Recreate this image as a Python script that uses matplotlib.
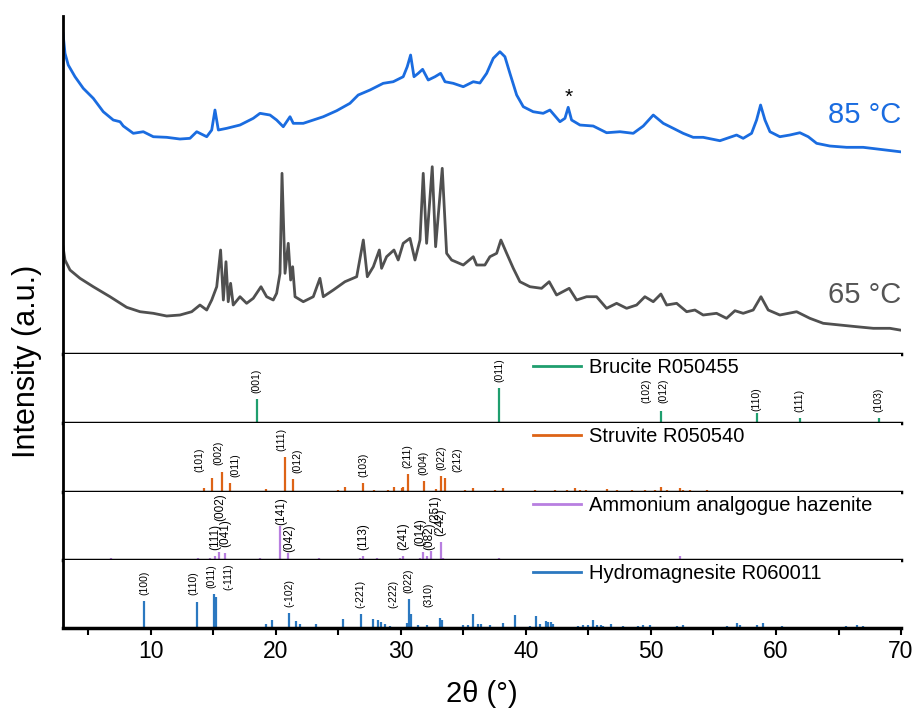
import numpy as np
import matplotlib
matplotlib.use("Agg")
import matplotlib.pyplot as plt
from matplotlib.ticker import MultipleLocator

plt.rcParams['font.family'] = ['Liberation Sans', 'DejaVu Sans']

# measured patterns (2theta in deg, intensity in a.u.)
tt_85 = [3.0, 3.16, 3.42, 3.96, 4.62, 5.42, 6.22, 7.02, 7.56, 7.82, 8.62, 9.42, 10.22, 11.29,
         12.35, 13.15, 13.69, 14.49, 14.89, 15.15, 15.42, 16.09, 17.15, 18.21, 18.75, 19.55,
         20.08, 20.61, 21.15, 21.41, 22.21, 23.01, 23.81, 24.88, 25.94, 26.6, 27.54, 28.6,
         29.4, 30.2, 30.52, 30.79, 31.06, 31.4, 31.75, 32.2, 32.74, 33.19, 33.54, 34.2, 35.0,
         35.8, 36.33, 36.87, 37.4, 37.93, 38.33, 38.73, 39.27, 39.8, 40.59, 41.39, 41.93,
         42.73, 43.13, 43.39, 43.66, 44.33, 45.39, 46.46, 47.53, 48.59, 49.39, 50.19, 50.99,
         51.79, 52.58, 53.38, 54.18, 55.52, 56.85, 57.38, 58.05, 58.45, 58.77, 59.12, 59.52,
         60.31, 61.11, 61.91, 62.58, 63.25, 64.31, 65.65, 66.97, 68.31, 69.9]
int_85 = [320.7, 300.7, 289, 277.3, 265.7, 255.7, 242.3, 234, 232.3, 228, 220.7, 222.3, 217.3,
          216.7, 215, 215.7, 222.3, 217.3, 224, 244, 224, 225.7, 229, 235.7, 240.7, 239, 234,
          227.3, 237.3, 230.7, 230.7, 234, 237.3, 243.3, 250.7, 259, 264, 270.7, 272.3, 277.3,
          287.3, 299, 277.3, 280.7, 284.7, 274, 277.3, 280.7, 272.3, 270.7, 267.3, 272.3, 271,
          280.7, 295.7, 302.3, 297.3, 280.7, 259, 247.3, 242.3, 240.7, 244, 232.3, 235.7, 246.7,
          234, 229, 228, 221.3, 222.3, 220.7, 228, 239, 230.7, 225.7, 220.7, 216.7, 216.7,
          213.3, 219, 215.7, 220.7, 234, 249, 234, 222.3, 217.3, 219, 221.3, 217.3, 210.7, 208,
          206.7, 206.7, 204.7, 202.3]

tt_65 = [3.0, 3.16, 3.56, 4.36, 5.42, 6.76, 8.09, 9.16, 10.22, 11.29, 12.35, 13.29, 13.95,
         14.49, 14.89, 15.29, 15.6, 15.82, 16.03, 16.21, 16.4, 16.61, 17.15, 17.68, 18.21,
         18.83, 19.28, 19.81, 20.08, 20.35, 20.51, 20.75, 21.01, 21.2, 21.36, 21.55, 22.21,
         23.01, 23.54, 23.81, 24.61, 25.54, 26.48, 27.01, 27.33, 27.81, 28.29, 28.47, 28.87,
         29.46, 29.8, 30.2, 30.74, 31.14, 31.54, 31.8, 32.07, 32.52, 32.79, 33.32, 33.67,
         34.07, 35.0, 35.8, 36.07, 36.73, 37.13, 37.67, 38.01, 38.47, 39.0, 39.53, 40.33,
         41.26, 41.87, 42.46, 43.47, 44.06, 44.86, 45.66, 46.46, 47.26, 48.06, 48.86, 49.52,
         50.19, 50.8, 51.26, 52.06, 52.86, 53.52, 54.18, 55.25, 56.05, 56.72, 57.38, 58.18,
         58.8, 59.38, 60.31, 61.65, 62.71, 63.78, 65.11, 66.45, 67.78, 69.11, 69.9]
int_65 = [107.3, 94, 84, 75.7, 67.3, 57.3, 46.7, 42.3, 40.7, 38, 39, 42.3, 49, 44, 54, 67.3,
          104, 54, 92.3, 52.3, 70.7, 49, 57.3, 50.7, 55.7, 67.3, 57.3, 54, 60.7, 80.7, 180.7,
          80.7, 110.7, 74, 87.3, 57.3, 52.3, 57.3, 75.7, 57.3, 64, 72.3, 77.3, 114, 77.3, 87.3,
          104, 85.7, 97.3, 104, 94, 110.7, 115.7, 94, 114, 180.7, 110.7, 187.3, 107.3, 185.7,
          100.7, 94, 89, 97.3, 89, 89, 97.3, 100.7, 114, 100.7, 85.7, 72.3, 67.3, 65.7, 72.3,
          59, 65.7, 54, 57.3, 57.3, 45.7, 50.7, 45.7, 49, 57.3, 52.3, 60, 49, 50.7, 42.3, 44,
          39, 40.7, 35.7, 43.3, 40.7, 44, 57.3, 44, 39, 42.3, 35.7, 30.7, 29, 27.3, 25.7, 25.7, 24]

# reference stick patterns (2theta, relative intensity)
brucite_tt = [18.5, 32.7, 37.85, 50.78, 58.47, 61.9, 68.2]
brucite_int = [70, 3, 100, 34, 28, 14, 14]
brucite_hkl = ["(001)", "(011)", "(102)", "(012)", "(110)", "(111)", "(103)"]
brucite_hkl_tt = [18.5, 37.85, 50.78, 50.78, 58.47, 61.9, 68.2]

struvite_tt = [14.27, 14.88, 15.71, 16.35, 19.2, 20.77, 21.36, 24.95, 25.57, 27.0, 27.88, 29.0,
               29.48, 30.07, 30.2, 30.55, 31.83, 32.8, 33.2, 33.58, 35.1, 35.75, 37.53, 38.2,
               40.7, 42.3, 43.3, 43.9, 44.3, 44.85, 45.4, 46.5, 47.3, 48.5, 49.1, 49.5, 50.3,
               50.8, 51.25, 52.3, 52.6, 53.1, 53.9, 54.45, 55.0, 55.5, 56.6, 57.9, 59.0, 59.5,
               60.3, 61.1, 62.2, 63.0, 64.3, 65.6, 67.0, 68.3, 69.6]
struvite_int = [11, 39, 58, 26, 8, 100, 36, 6, 13, 26, 6, 6, 13, 11, 14, 51, 32, 8, 45, 41, 6,
                11, 6, 11, 5, 6, 5, 12, 5, 6, 4, 8, 5, 5, 4, 5, 6, 14, 6, 12, 6, 6, 4, 5, 4, 3,
                4, 4, 3, 4, 3, 3, 4, 3, 3, 3, 3, 3, 4]
struvite_hkl = ["(101)", "(002)", "(011)", "(111)", "(012)", "(103)", "(211)", "(004)",
                "(022)", "(212)"]
struvite_hkl_tt = [14.88, 15.71, 16.35, 20.77, 21.36, 27.0, 30.55, 31.83, 33.2, 35.1]

hazenite_tt = [6.81, 13.02, 13.8, 14.75, 15.15, 15.5, 15.95, 17.07, 18.75, 19.07, 20.35, 20.96,
               23.48, 25.35, 26.74, 27.0, 27.8, 28.12, 28.74, 29.22, 29.94, 30.2, 31.54, 31.8,
               32.1, 32.4, 33.2, 33.4, 35.26, 36.93, 37.86, 38.2, 39.5, 40.3, 41.0, 42.5, 44.0,
               45.5, 47.0, 48.5, 50.0, 52.3, 54.0, 56.0, 58.0, 60.0, 62.0, 64.0, 66.0, 68.0, 69.6]
hazenite_int = [7, 4, 5, 6, 13, 24, 20, 4, 7, 4, 100, 19, 7, 4, 6, 13, 4, 6, 4, 4, 6, 13, 7, 22,
                11, 27, 51, 6, 4, 4, 6, 4, 3, 4, 3, 4, 3, 3, 3, 4, 3, 11, 3, 3, 3, 3, 3, 2, 3, 2, 4]
hazenite_hkl = ["(111)", "(002)", "(041)", "(141)", "(042)", "(113)", "(241)", "(014)",
                "(082)", "(251)", "(242)"]
hazenite_hkl_tt = [15.15, 15.5, 15.95, 20.35, 20.96, 27.0, 30.2, 31.8, 32.1, 32.4, 33.2]

hydro_tt = [9.5, 13.69, 15.1, 15.25, 19.23, 19.73, 21.1, 21.63, 21.94, 23.22, 25.35, 26.8,
            27.75, 28.2, 28.4, 28.74, 29.14, 30.47, 30.68, 30.82, 31.4, 32.1, 33.14, 33.27,
            35.0, 35.4, 35.8, 36.2, 36.4, 37.15, 38.2, 39.13, 40.3, 40.8, 41.1, 41.6, 41.8,
            42.0, 42.2, 44.2, 44.6, 45.0, 45.35, 45.7, 46.0, 46.2, 46.85, 47.8, 49.0, 49.4,
            49.9, 52.05, 52.6, 55.0, 56.1, 56.9, 57.1, 58.45, 58.98, 60.47, 62.0, 63.0, 64.0,
            65.0, 65.6, 66.5, 66.96]
hydro_int = [79, 75, 100, 90, 13, 23, 43, 20, 13, 13, 25, 40, 25, 23, 17, 11, 6, 14, 84, 42,
             8, 8, 30, 23, 8, 8, 40, 11, 11, 8, 14, 37, 6, 34, 11, 20, 17, 17, 11, 6, 8, 8, 23,
             8, 8, 6, 11, 6, 6, 8, 8, 6, 8, 3, 6, 14, 8, 8, 14, 6, 4, 4, 4, 4, 6, 8, 6]
hydro_hkl = ["(100)", "(110)", "(011)", "(-111)", "(-102)", "(-221)", "(-222)", "(022)", "(310)"]
hydro_hkl_tt = [9.5, 13.69, 15.1, 15.25, 21.1, 26.8, 29.14, 30.68, 32.1]

phases = [
    ("Brucite R050455", brucite_tt, brucite_int, brucite_hkl, brucite_hkl_tt, "#1f9e6e", 7.5),
    ("Struvite R050540", struvite_tt, struvite_int, struvite_hkl, struvite_hkl_tt, "#dd6316", 7.5),
    ("Ammonium analgogue hazenite", hazenite_tt, hazenite_int, hazenite_hkl, hazenite_hkl_tt,
     "#b87fe0", 8.5),
    ("Hydromagnesite R060011", hydro_tt, hydro_int, hydro_hkl, hydro_hkl_tt, "#2b78c0", 7.5),
]

# label nudges in pixels (dx, dy) where labels are shifted to avoid overlaps
nudge = {
    ("Brucite R050455", "(102)"): (-14, 2), ("Brucite R050455", "(012)"): (3, 2),
    ("Brucite R050455", "(110)"): (0, -4),
    ("Struvite R050540", "(101)"): (-12, 0), ("Struvite R050540", "(002)"): (-4, 1),
    ("Struvite R050540", "(011)"): (5, 0), ("Struvite R050540", "(111)"): (-4, 0),
    ("Struvite R050540", "(012)"): (5, 0), ("Struvite R050540", "(022)"): (1, 0),
    ("Struvite R050540", "(212)"): (-7, 12),
    ("Ammonium analgogue hazenite", "(002)"): (1, 25),
    ("Ammonium analgogue hazenite", "(141)"): (1, -5),
    ("Ammonium analgogue hazenite", "(042)"): (2, -5),
    ("Ammonium analgogue hazenite", "(014)"): (-3, 0),
    ("Ammonium analgogue hazenite", "(082)"): (2, 0),
    ("Ammonium analgogue hazenite", "(251)"): (5, 22),
    ("Hydromagnesite R060011", "(110)"): (-3, 1), ("Hydromagnesite R060011", "(011)"): (-3, 0),
    ("Hydromagnesite R060011", "(-111)"): (12, 1), ("Hydromagnesite R060011", "(-222)"): (3, 12),
    ("Hydromagnesite R060011", "(022)"): (-1, 0), ("Hydromagnesite R060011", "(310)"): (1, 12),
}

fig = plt.figure(figsize=(9.17, 7.22), dpi=100)
gs = fig.add_gridspec(5, 1, height_ratios=[338, 69, 69, 68, 68], hspace=0,
                      left=0.0687, right=0.9826, top=0.9778, bottom=0.1302)
axes = [fig.add_subplot(gs[i]) for i in range(5)]

ax = axes[0]
ax.plot(tt_85, int_85, color="#1a6ce0", lw=2.0)
ax.plot(tt_65, int_65, color="#505050", lw=2.0)
ax.set_ylim(0, 338)
ax.text(70, 239, "85 °C", color="#1a6ce0", fontsize=21, ha="right", va="center")
ax.text(70, 59, "65 °C", color="#555555", fontsize=21, ha="right", va="center")
ax.text(43.39, 257, "*", fontsize=15, ha="center", va="center")

for ax, (name, tt, inten, hkl, hkl_tt, color, fs) in zip(axes[1:], phases):
    ax.vlines(tt, 0, inten, color=color, lw=1.6)
    ax.plot([], [], color=color, lw=2, label=name)
    ax.set_ylim(0, 198)
    tt_arr = np.array(tt)
    for lab, x in zip(hkl, hkl_tt):
        h = inten[int(np.argmin(np.abs(tt_arr - x)))]
        dx, dy = nudge.get((name, lab), (0, 0))
        ax.annotate(lab, (x, h), xytext=(dx * 0.72, (6 + dy) * 0.72),
                    textcoords="offset points", rotation=90, ha="center", va="bottom",
                    fontsize=fs)
    ax.legend(loc="center left", bbox_to_anchor=(0.549, 0.80), frameon=False, borderpad=0,
              handlelength=2.4, handletextpad=0.35, fontsize=14.5)

for i, ax in enumerate(axes):
    ax.set_xlim(3, 70)
    ax.spines["top"].set_visible(False)
    ax.spines["right"].set_visible(False)
    ax.spines["left"].set_linewidth(2)
    ax.spines["bottom"].set_linewidth(2.5)
    ax.set_yticks([])
    if i < 4:
        ax.set_xticks([])
    else:
        ax.xaxis.set_major_locator(MultipleLocator(10))
        ax.xaxis.set_minor_locator(MultipleLocator(5))
        ax.tick_params(axis="x", which="major", direction="out", length=5, width=1.5,
                       labelsize=16.5, pad=4)
        ax.tick_params(axis="x", which="minor", direction="out", length=5, width=1.5)
        ax.set_xlabel("2θ (°)", fontsize=21, labelpad=12)

fig.text(0.029, 0.50, "Intensity (a.u.)", rotation=90, fontsize=22, ha="center", va="center")

fig.savefig("out.png", dpi=100)
